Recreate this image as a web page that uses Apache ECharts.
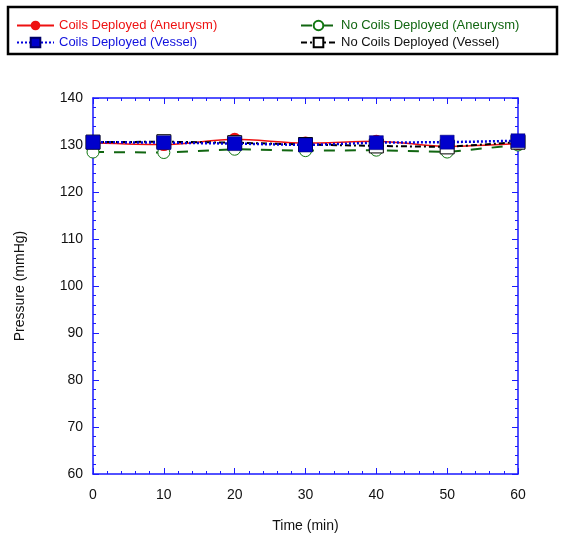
<!DOCTYPE html>
<html>
<head>
<meta charset="utf-8">
<script src="https://cdn.jsdelivr.net/npm/echarts@6/dist/echarts.min.js"></script>
<style>
html,body{margin:0;padding:0;background:#fff;}
#chart{width:561px;height:535px;}
</style>
</head>
<body>
<div id="chart"></div>
<script>
var timeMin = [0, 10, 20, 30, 40, 50, 60];
var coilsAneurysm = [130.5, 130.1, 131.2, 130.4, 130.8, 129.7, 130.3];
var coilsVessel = [130.6, 130.5, 130.3, 130.0, 130.5, 130.6, 130.9];
var noCoilsAneurysm = [128.5, 128.4, 129.1, 128.8, 128.9, 128.5, 130.0];
var noCoilsVessel = [130.6, 130.7, 130.5, 130.1, 129.8, 129.6, 130.6];
var seriesNames = ['Coils Deployed (Aneurysm)', 'Coils Deployed (Vessel)', 'No Coils Deployed (Aneurysm)', 'No Coils Deployed (Vessel)'];
var xTicks = [0, 10, 20, 30, 40, 50, 60];
var yTicks = [60, 70, 80, 90, 100, 110, 120, 130, 140];

function pairs(ys){ return timeMin.map(function(t,i){ return [t, ys[i]]; }); }

var FONT = '"Liberation Sans", Arial, sans-serif';
var AX = '#1a1aff';

var chart = echarts.init(document.getElementById('chart'), null, {renderer:'canvas'});

var xBase = {
  type:'value', min:xTicks[0], max:xTicks[xTicks.length-1], interval:10,
  axisLine:{show:true, onZero:false, lineStyle:{color:AX, width:1.5}},
  axisTick:{show:true, inside:true, length:6, lineStyle:{color:AX, width:1}},
  minorTick:{show:true, splitNumber:5, length:3, lineStyle:{color:AX, width:1}},
  splitLine:{show:false}, minorSplitLine:{show:false}
};
var yBase = {
  type:'value', min:yTicks[0], max:yTicks[yTicks.length-1], interval:10,
  axisLine:{show:true, onZero:false, lineStyle:{color:AX, width:1.5}},
  axisTick:{show:true, inside:true, length:6, lineStyle:{color:AX, width:1}},
  minorTick:{show:true, splitNumber:5, length:3, lineStyle:{color:AX, width:1}},
  splitLine:{show:false}, minorSplitLine:{show:false}
};

var option = {
  backgroundColor:'#fff',
  animation:false,
  grid:{left:93, right:43, top:98, bottom:61, containLabel:false, outerBoundsMode:'none'},
  graphic:[{
    type:'rect', shape:{x:8, y:7, width:549, height:47},
    style:{fill:'none', stroke:'#000', lineWidth:2.5}, z:0
  }],
  legend:[{
    orient:'vertical', left:11, top:14, itemGap:4, itemWidth:37, itemHeight:12,
    textStyle:{fontFamily:FONT, fontSize:13},
    data:[{name:seriesNames[0], textStyle:{color:'#ee1111'}},{name:seriesNames[1], textStyle:{color:'#1111dd'}}]
  },{
    orient:'vertical', left:295, top:14, itemGap:4, itemWidth:35, itemHeight:12,
    textStyle:{fontFamily:FONT, fontSize:13},
    data:[{name:seriesNames[2], textStyle:{color:'#116611'}},{name:seriesNames[3], textStyle:{color:'#111111'}}]
  }],
  xAxis:[
    Object.assign({}, xBase, {
      position:'bottom', name:'Time (min)', nameLocation:'middle', nameGap:45,
      nameTextStyle:{fontFamily:FONT, fontSize:14, color:'#111'},
      axisLabel:{show:true, margin:14, fontFamily:FONT, fontSize:14, color:'#111'}
    }),
    Object.assign({}, xBase, {position:'top', axisLabel:{show:false}})
  ],
  yAxis:[
    Object.assign({}, yBase, {
      position:'left', name:'Pressure (mmHg)', nameLocation:'middle', nameGap:66,
      nameTextStyle:{fontFamily:FONT, fontSize:14, color:'#111'},
      axisLabel:{show:true, margin:10, fontFamily:FONT, fontSize:14, color:'#111'}
    }),
    Object.assign({}, yBase, {position:'right', axisLabel:{show:false}})
  ],
  series:[
    {
      name:seriesNames[0], type:'line', data:pairs(coilsAneurysm), smooth:0.3, z:3,
      symbol:'circle', symbolSize:13,
      itemStyle:{color:'#ee1111'},
      lineStyle:{color:'#ee1111', width:1.5, type:'solid'}
    },
    {
      name:seriesNames[1], type:'line', data:pairs(coilsVessel), z:5,
      symbol:'rect', symbolSize:14,
      itemStyle:{color:'#0000cc', borderColor:'#000066', borderWidth:0.5},
      lineStyle:{color:'#0000dd', width:2.5, type:[2,2]}
    },
    {
      name:seriesNames[2], type:'line', data:pairs(noCoilsAneurysm), z:2,
      symbol:'circle', symbolSize:12,
      itemStyle:{color:'#ffffff', borderColor:'#117711', borderWidth:1},
      lineStyle:{color:'#116611', width:2, type:[11,10]}
    },
    {
      name:seriesNames[3], type:'line', data:pairs(noCoilsVessel), z:4,
      symbol:'rect', symbolSize:14,
      itemStyle:{color:'#ffffff', borderColor:'#000', borderWidth:1},
      lineStyle:{color:'#000', width:2, type:[6,3,2,3]}
    }
  ]
};
chart.setOption(option);
</script>
</body>
</html>
